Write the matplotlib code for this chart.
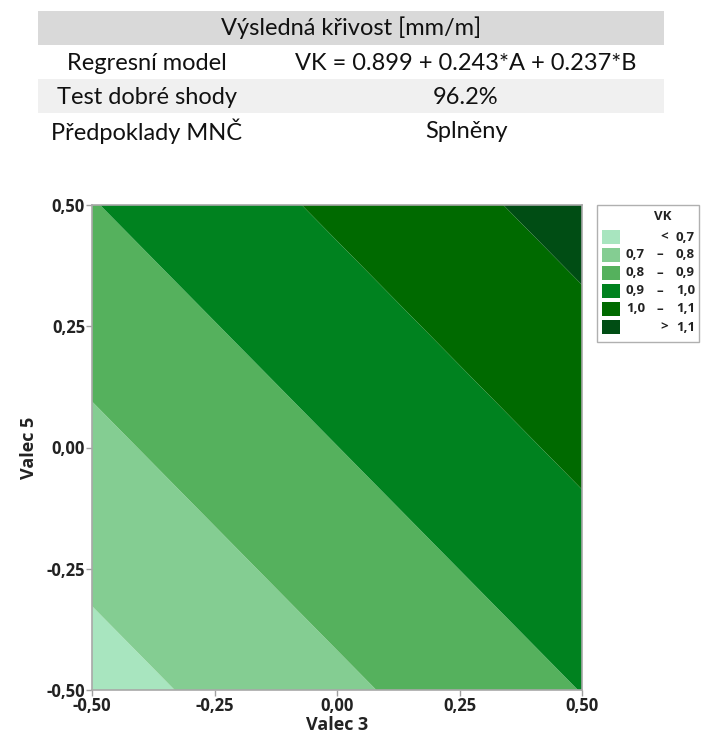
import numpy as np
import matplotlib
matplotlib.use("Agg")
import matplotlib.pyplot as plt
from matplotlib.patches import Rectangle

# Regression model of the resulting curvature (coded factor units)
intercept = 0.899
coef_a = 0.243   # Valec 3
coef_b = 0.237   # Valec 5

levels = [0.7, 0.8, 0.9, 1.0, 1.1]
band_colors = ["#a8e5bf", "#84cd92", "#55b15d", "#00821f", "#006a00", "#004d14"]
legend_labels = [("", "<", "0,7"), ("0,7", "–", "0,8"), ("0,8", "–", "0,9"),
                 ("0,9", "–", "1,0"), ("1,0", "–", "1,1"), ("", ">", "1,1")]

tick_values = [-0.5, -0.25, 0.0, 0.25, 0.5]
tick_labels = ["-0,50", "-0,25", "0,00", "0,25", "0,50"]

table_rows = [("Regresní model", "VK = 0.899 + 0.243*A + 0.237*B"),
              ("Test dobré shody", "96.2%"),
              ("Předpoklady MNČ", "Splněny")]
table_title = "Výsledná křivost [mm/m]"

W, H = 701, 742
fig = plt.figure(figsize=(W / 100, H / 100), dpi=100)
fig.patch.set_facecolor("white")

def fx(px):
    return px / W

def fy(py):
    return 1 - py / H

# ---- summary table ----
tfont = dict(family=["Lato", "DejaVu Sans"], fontsize=17, color="#111111")
fig.patches.append(Rectangle((fx(38), fy(45)), fx(664) - fx(38), fy(11) - fy(45),
                             transform=fig.transFigure, facecolor="#d9d9d9",
                             edgecolor="none"))
fig.patches.append(Rectangle((fx(38), fy(113)), fx(664) - fx(38), fy(79) - fy(113),
                             transform=fig.transFigure, facecolor="#f0f0f0",
                             edgecolor="none"))
fig.text(fx(351), fy(28), table_title, ha="center", va="center", **tfont)
row_y = [63, 97, 131]
for (lab, val), y in zip(table_rows, row_y):
    fig.text(fx(147), fy(y), lab, ha="center", va="center", **tfont)
    fig.text(fx(466), fy(y), val, ha="center", va="center", **tfont)

# ---- contour plot ----
ax = fig.add_axes([fx(92), fy(690), fx(582) - fx(92), fy(205) - fy(690)])
a = np.linspace(-0.5, 0.5, 301)
b = np.linspace(-0.5, 0.5, 301)
A, B = np.meshgrid(a, b)
VK = intercept + coef_a * A + coef_b * B
all_levels = [min(VK.min(), levels[0]) - 0.01] + levels + [max(VK.max(), levels[-1]) + 0.01]
ax.contourf(A, B, VK, levels=all_levels, colors=band_colors, antialiased=True)
ax.set_xlim(-0.5, 0.5)
ax.set_ylim(-0.5, 0.5)

chart_family = ["Open Sans", "DejaVu Sans"]
tick_font = dict(family=chart_family, fontsize=12, fontweight="bold", color="#222222")
ax.set_xticks(tick_values)
ax.set_xticklabels(tick_labels, **tick_font)
ax.set_yticks(tick_values)
ax.set_yticklabels(tick_labels, **tick_font)
ax.tick_params(direction="out", length=4, width=1, color="#a0a0a0", pad=1)
for s in ax.spines.values():
    s.set_color("#a8a8a8")
    s.set_linewidth(1.2)

label_font = dict(family=chart_family, fontsize=13, fontweight="bold", color="#222222")
ax.set_xlabel("Valec 3", labelpad=1, **label_font)
ax.set_ylabel("Valec 5", labelpad=6, **label_font)

# ---- legend ----
fig.patches.append(Rectangle((fx(597), fy(342)), fx(699) - fx(597), fy(205) - fy(342),
                             transform=fig.transFigure, facecolor="white",
                             edgecolor="#b0b0b0", linewidth=1))
lfont = dict(family=chart_family, fontsize=9.5, fontweight="bold", color="#222222")
fig.text(fx(663), fy(217), "VK", ha="center", va="center", **lfont)
sw_y = [237, 255, 273, 291, 309, 327]
for col, (lo, sep, hi), y in zip(band_colors, legend_labels, sw_y):
    fig.patches.append(Rectangle((fx(602), fy(y + 7)), fx(620) - fx(602), fy(y - 7) - fy(y + 7),
                                 transform=fig.transFigure, facecolor=col,
                                 edgecolor="none"))
    if lo:
        fig.text(fx(645), fy(y), lo, ha="right", va="center", **lfont)
    fig.text(fx(660) if lo else fx(664), fy(y), sep, ha="center", va="center", **lfont)
    fig.text(fx(695), fy(y), hi, ha="right", va="center", **lfont)

fig.savefig("out.png", dpi=100)
